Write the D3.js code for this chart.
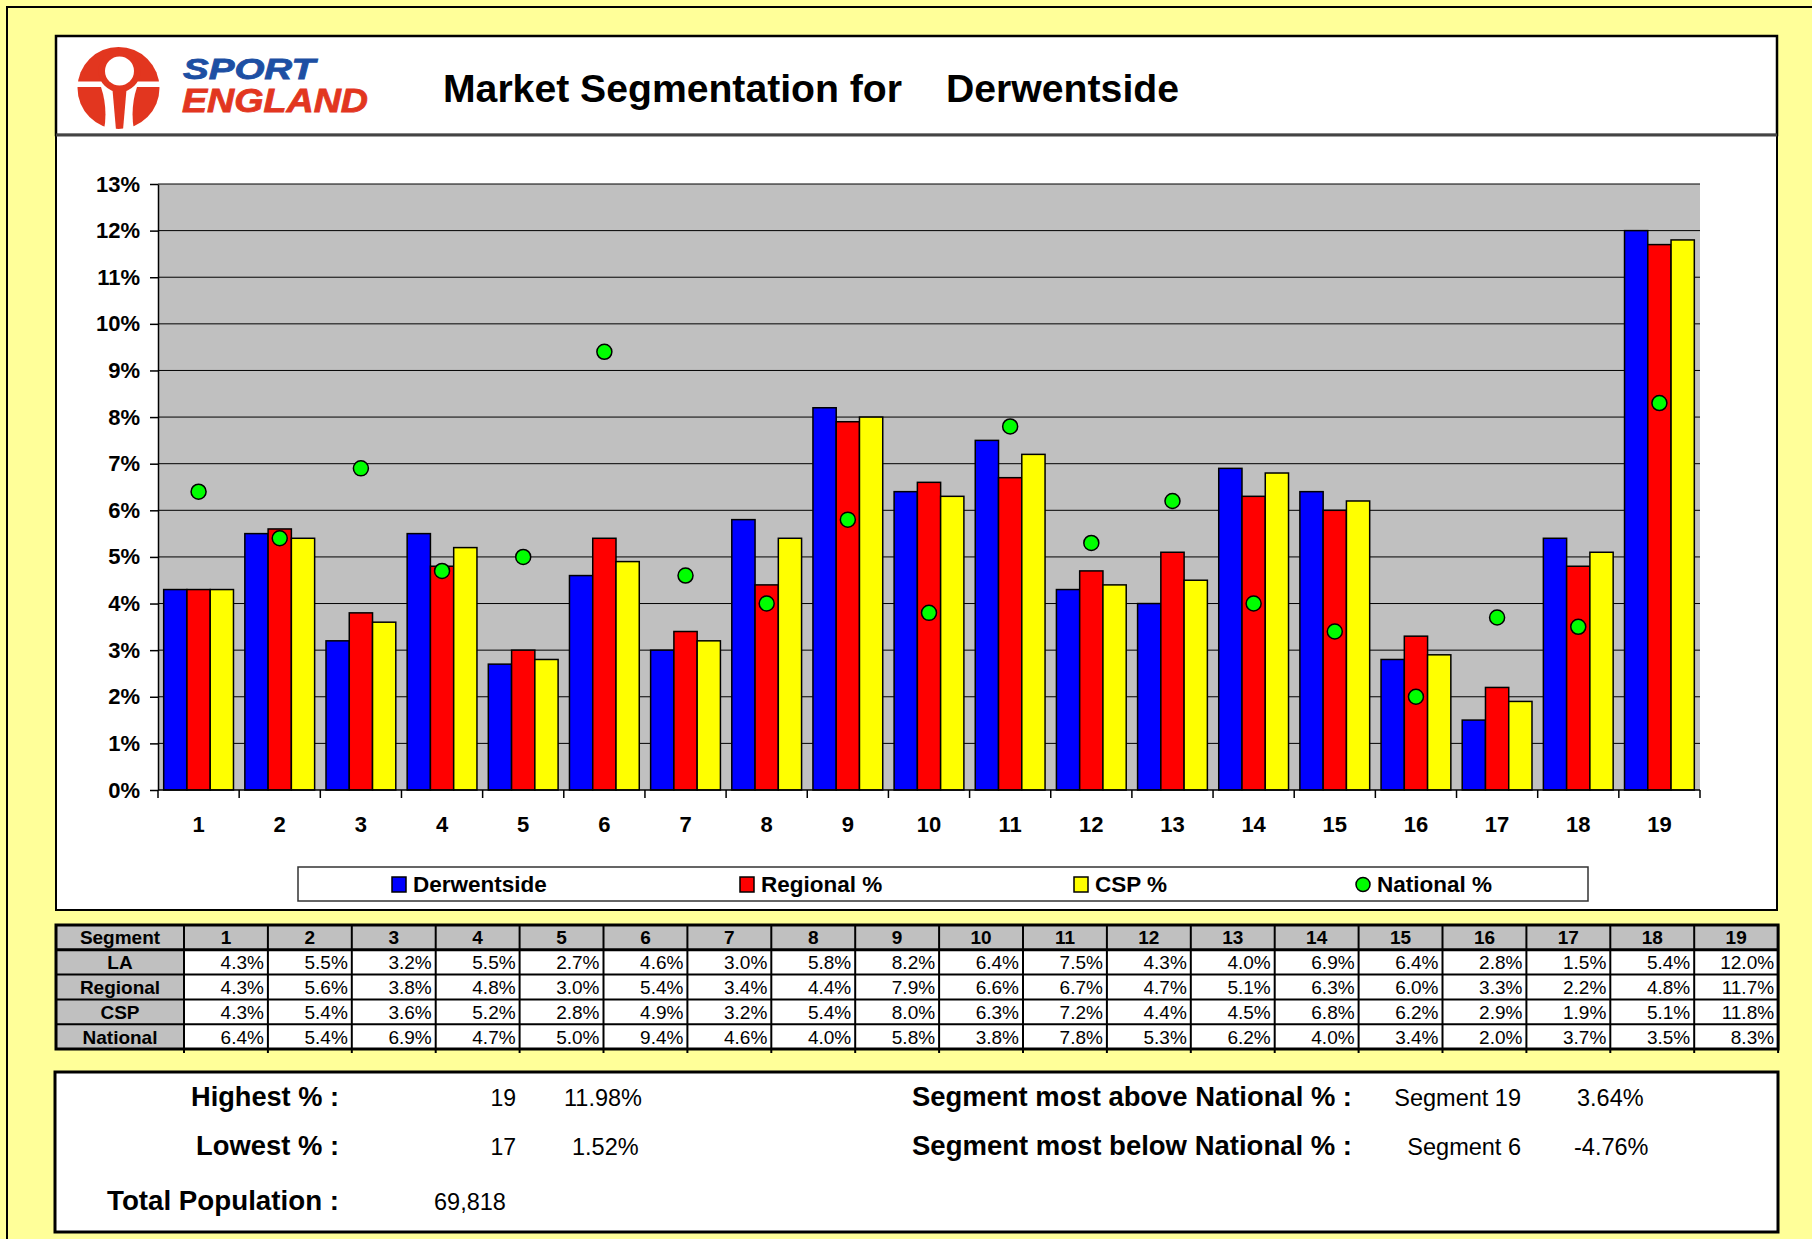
<!DOCTYPE html>
<html>
<head>
<meta charset="utf-8">
<script src="https://cdn.jsdelivr.net/npm/d3@7"></script>
<style>
  body { margin: 0; background: #FFFF99; }
  svg { display: block; font-family: Arial, "Liberation Sans", sans-serif; }
</style>
</head>
<body>
<div id="chart"></div>
<script>
const segments = d3.range(1, 20).map(String);
const laValues       = [4.3, 5.5, 3.2, 5.5, 2.7, 4.6, 3.0, 5.8, 8.2, 6.4, 7.5, 4.3, 4.0, 6.9, 6.4, 2.8, 1.5, 5.4, 12.0];
const regionalValues = [4.3, 5.6, 3.8, 4.8, 3.0, 5.4, 3.4, 4.4, 7.9, 6.6, 6.7, 4.7, 5.1, 6.3, 6.0, 3.3, 2.2, 4.8, 11.7];
const cspValues      = [4.3, 5.4, 3.6, 5.2, 2.8, 4.9, 3.2, 5.4, 8.0, 6.3, 7.2, 4.4, 4.5, 6.8, 6.2, 2.9, 1.9, 5.1, 11.8];
const nationalValues = [6.4, 5.4, 6.9, 4.7, 5.0, 9.4, 4.6, 4.0, 5.8, 3.8, 7.8, 5.3, 6.2, 4.0, 3.4, 2.0, 3.7, 3.5, 8.3];
const barSeries = ['Derwentside', 'Regional %', 'CSP %'];
const tableRows = ['LA', 'Regional', 'CSP', 'National'];
const yTicks = d3.range(0, 14);
const areaName = 'Derwentside';
const summaryLeft = [
  ['Highest % :', '19', '11.98%'],
  ['Lowest % :', '17', '1.52%'],
  ['Total Population :', '', '69,818']
];
const summaryRight = [
  ['Segment most above National % :', 'Segment 19', '3.64%'],
  ['Segment most below National % :', 'Segment 6', '-4.76%']
];

const W = 1812, H = 1239;
const BLUE = '#0000FF', RED = '#FF0000', YELLOW = '#FFFF00', GREEN = '#00FF00', GREY = '#C0C0C0';

const svg = d3.select('#chart').append('svg').attr('width', W).attr('height', H);

// ── Background & panels ────────────────────────────────────────────────────
svg.append('rect').attr('x', 7).attr('y', 7).attr('width', W + 10).attr('height', H + 10)
  .attr('fill', '#FFFF99').attr('stroke', '#000').attr('stroke-width', 2);

svg.append('rect').attr('x', 56).attr('y', 36).attr('width', 1721).attr('height', 99)
  .attr('fill', '#fff').attr('stroke', '#000').attr('stroke-width', 2.5);
svg.append('rect').attr('x', 56).attr('y', 135).attr('width', 1721).attr('height', 775)
  .attr('fill', '#fff').attr('stroke', '#000').attr('stroke-width', 2);
svg.append('line').attr('x1', 56).attr('x2', 1777).attr('y1', 135).attr('y2', 135)
  .attr('stroke', '#444').attr('stroke-width', 3);

// ── Logo ───────────────────────────────────────────────────────────────────
const logo = svg.append('g');
const LRED = '#E2361F';
logo.append('clipPath').attr('id', 'logo-clip')
  .append('circle').attr('cx', 118.5).attr('cy', 88).attr('r', 41);
const lg = logo.append('g').attr('clip-path', 'url(#logo-clip)');
lg.append('rect').attr('x', 70).attr('y', 40).attr('width', 100).attr('height', 41.5).attr('fill', LRED);
lg.append('circle').attr('cx', 119.5).attr('cy', 71).attr('r', 21).attr('fill', LRED);
lg.append('path').attr('d', 'M112,84 L127,84 L123,130 L116,130 Z').attr('fill', LRED);
lg.append('path').attr('d', 'M70,87 L101,87 Q108,108 104,130 L70,130 Z').attr('fill', LRED);
lg.append('path').attr('d', 'M167,87 L137,87 Q130,108 134,130 L167,130 Z').attr('fill', LRED);
lg.append('circle').attr('cx', 119.5).attr('cy', 71).attr('r', 14.5).attr('fill', '#fff');
logo.append('text').attr('x', 183).attr('y', 79).attr('font-size', 29).attr('font-weight', 900)
  .attr('font-style', 'italic').attr('fill', '#1D4FA3').attr('stroke', '#1D4FA3').attr('stroke-width', 0.8)
  .attr('textLength', 132).attr('lengthAdjust', 'spacingAndGlyphs').text('SPORT');
logo.append('text').attr('x', 182).attr('y', 112).attr('font-size', 33).attr('font-weight', 900)
  .attr('font-style', 'italic').attr('fill', LRED).attr('stroke', LRED).attr('stroke-width', 0.8)
  .attr('textLength', 186).attr('lengthAdjust', 'spacingAndGlyphs').text('ENGLAND');

// Title
svg.append('text').attr('x', 443).attr('y', 102).attr('font-size', 38).attr('font-weight', 'bold')
  .attr('textLength', 459).attr('lengthAdjust', 'spacingAndGlyphs').text('Market Segmentation for');
svg.append('text').attr('x', 946).attr('y', 102).attr('font-size', 38).attr('font-weight', 'bold')
  .attr('textLength', 233).attr('lengthAdjust', 'spacingAndGlyphs').text(areaName);

// ── Chart ──────────────────────────────────────────────────────────────────
const plot = { left: 158, right: 1700, top: 184, bottom: 790 };

const x = d3.scaleBand().domain(segments).range([plot.left, plot.right])
  .paddingInner(0.14).paddingOuter(0.07);
const xSub = d3.scaleBand().domain(barSeries).range([0, x.bandwidth()]);
const y = d3.scaleLinear().domain([0, 13]).range([plot.bottom, plot.top]);

const g = svg.append('g');

g.append('rect').attr('x', plot.left).attr('y', plot.top)
  .attr('width', plot.right - plot.left).attr('height', plot.bottom - plot.top)
  .attr('fill', GREY);

// Gridlines
g.selectAll('line.grid').data(yTicks.slice(1)).join('line')
  .attr('class', 'grid')
  .attr('x1', plot.left).attr('x2', plot.right)
  .attr('y1', d => y(d)).attr('y2', d => y(d))
  .attr('stroke', '#000').attr('stroke-width', 1);

// Bars
const barData = segments.map((s, i) => ({
  seg: s,
  values: [
    { key: 'Derwentside', v: laValues[i], c: BLUE },
    { key: 'Regional %', v: regionalValues[i], c: RED },
    { key: 'CSP %', v: cspValues[i], c: YELLOW }
  ]
}));

g.selectAll('g.seg').data(barData).join('g')
  .attr('class', 'seg')
  .attr('transform', d => `translate(${x(d.seg)},0)`)
  .selectAll('rect').data(d => d.values).join('rect')
  .attr('x', d => xSub(d.key))
  .attr('y', d => y(d.v))
  .attr('width', xSub.bandwidth())
  .attr('height', d => y(0) - y(d.v))
  .attr('fill', d => d.c)
  .attr('stroke', '#000').attr('stroke-width', 1.5);

// National dots
g.selectAll('circle.nat').data(segments).join('circle')
  .attr('class', 'nat')
  .attr('cx', d => x(d) + x.bandwidth() / 2)
  .attr('cy', (d, i) => y(nationalValues[i]))
  .attr('r', 7.5)
  .attr('fill', GREEN).attr('stroke', '#000').attr('stroke-width', 1.5);

// Y axis
const yAxis = g.append('g').attr('transform', `translate(${plot.left},0)`)
  .call(d3.axisLeft(y).tickValues(yTicks).tickFormat(d => d + '%').tickSize(8).tickSizeOuter(0));
yAxis.select('.domain').attr('stroke', '#000').attr('stroke-width', 1.5);
yAxis.selectAll('.tick line').attr('stroke', '#000').attr('stroke-width', 1.5);
yAxis.selectAll('.tick text').attr('x', -18).attr('font-size', 22).attr('font-weight', 'bold')
  .attr('fill', '#000').attr('font-family', 'Arial, "Liberation Sans", sans-serif');

// X axis line and boundary ticks
g.append('line').attr('x1', plot.left).attr('x2', plot.right)
  .attr('y1', plot.bottom).attr('y2', plot.bottom)
  .attr('stroke', '#000').attr('stroke-width', 1.5);
const boundaries = d3.range(0, segments.length + 1);
g.selectAll('line.xtick').data(boundaries).join('line')
  .attr('class', 'xtick')
  .attr('x1', d => plot.left + d * x.step()).attr('x2', d => plot.left + d * x.step())
  .attr('y1', plot.bottom).attr('y2', plot.bottom + 8)
  .attr('stroke', '#000').attr('stroke-width', 1.5);
g.selectAll('text.xlab').data(segments).join('text')
  .attr('class', 'xlab')
  .attr('x', d => x(d) + x.bandwidth() / 2)
  .attr('y', 832)
  .attr('text-anchor', 'middle')
  .attr('font-size', 22).attr('font-weight', 'bold')
  .text(d => d);

// Legend
const legend = svg.append('g');
legend.append('rect').attr('x', 298).attr('y', 867).attr('width', 1290).attr('height', 34)
  .attr('fill', '#fff').attr('stroke', '#333').attr('stroke-width', 1.5);
const legendItems = [
  { label: 'Derwentside', c: BLUE, x: 392, shape: 'rect' },
  { label: 'Regional %', c: RED, x: 740, shape: 'rect' },
  { label: 'CSP %', c: YELLOW, x: 1074, shape: 'rect' },
  { label: 'National %', c: GREEN, x: 1356, shape: 'circle' }
];
legendItems.forEach(it => {
  if (it.shape === 'rect') {
    legend.append('rect').attr('x', it.x).attr('y', 877).attr('width', 14).attr('height', 15)
      .attr('fill', it.c).attr('stroke', '#000').attr('stroke-width', 1.5);
  } else {
    legend.append('circle').attr('cx', it.x + 7).attr('cy', 884.5).attr('r', 7)
      .attr('fill', it.c).attr('stroke', '#000').attr('stroke-width', 1.5);
  }
  legend.append('text').attr('x', it.x + 21).attr('y', 892)
    .attr('font-size', 22.5).attr('font-weight', 'bold').text(it.label);
});

// ── Data table ─────────────────────────────────────────────────────────────
const tbl = { left: 56, firstW: 128, colW: 83.9, top: 925, rowH: 24.8 };
const colX = d3.scaleBand().domain(segments)
  .range([tbl.left + tbl.firstW, tbl.left + tbl.firstW + tbl.colW * segments.length]);
const rowY = d3.scaleBand().domain(['Segment', ...tableRows])
  .range([tbl.top, tbl.top + tbl.rowH * 5]);
const tableValues = [laValues, regionalValues, cspValues, nationalValues];
const tg = svg.append('g');
const tRight = tbl.left + tbl.firstW + tbl.colW * segments.length;

// Header row and first column
tg.append('rect').attr('x', tbl.left).attr('y', tbl.top).attr('width', tRight - tbl.left).attr('height', tbl.rowH)
  .attr('fill', GREY);
tg.append('rect').attr('x', tbl.left).attr('y', tbl.top).attr('width', tbl.firstW).attr('height', tbl.rowH * 5)
  .attr('fill', GREY);
tg.append('rect').attr('x', tbl.left + tbl.firstW).attr('y', tbl.top + tbl.rowH)
  .attr('width', tRight - tbl.left - tbl.firstW).attr('height', tbl.rowH * 4).attr('fill', '#fff');

['Segment', ...tableRows].forEach(r => {
  tg.append('text').attr('x', tbl.left + tbl.firstW / 2).attr('y', rowY(r) + tbl.rowH / 2 + 7)
    .attr('text-anchor', 'middle').attr('font-size', 19).attr('font-weight', 'bold').text(r);
});
segments.forEach(s => {
  tg.append('text').attr('x', colX(s) + tbl.colW / 2).attr('y', tbl.top + tbl.rowH / 2 + 7)
    .attr('text-anchor', 'middle').attr('font-size', 19).attr('font-weight', 'bold').text(s);
});
tableRows.forEach((r, ri) => {
  tg.selectAll(null).data(segments).join('text')
    .attr('x', d => colX(d) + tbl.colW - 4)
    .attr('y', rowY(r) + tbl.rowH / 2 + 7)
    .attr('text-anchor', 'end').attr('font-size', 19)
    .text((d, i) => d3.format('.1f')(tableValues[ri][i]) + '%');
});

// Grid lines of table
d3.range(1, 5).forEach(k => {
  tg.append('line').attr('x1', tbl.left).attr('x2', tRight)
    .attr('y1', tbl.top + k * tbl.rowH).attr('y2', tbl.top + k * tbl.rowH)
    .attr('stroke', '#000').attr('stroke-width', k === 1 ? 3 : 2);
});
[tbl.left + tbl.firstW, ...segments.map(s => colX(s) + tbl.colW)].forEach(xx => {
  tg.append('line').attr('x1', xx).attr('x2', xx)
    .attr('y1', tbl.top).attr('y2', tbl.top + tbl.rowH * 5 + 4)
    .attr('stroke', '#000').attr('stroke-width', 2);
});
tg.append('rect').attr('x', tbl.left).attr('y', tbl.top).attr('width', tRight - tbl.left).attr('height', tbl.rowH * 5)
  .attr('fill', 'none').attr('stroke', '#000').attr('stroke-width', 3);

// ── Summary panel ──────────────────────────────────────────────────────────
const sp = svg.append('g');
sp.append('rect').attr('x', 55).attr('y', 1072).attr('width', 1723).attr('height', 160)
  .attr('fill', '#fff').attr('stroke', '#000').attr('stroke-width', 3);

const leftRowsY = [1106, 1155, 1210];
const leftLabelW = [148, 143, 232];
summaryLeft.forEach((r, i) => {
  sp.append('text').attr('x', 339).attr('y', leftRowsY[i]).attr('text-anchor', 'end')
    .attr('font-size', 27).attr('font-weight', 'bold')
    .attr('textLength', leftLabelW[i]).attr('lengthAdjust', 'spacingAndGlyphs').text(r[0]);
  if (r[1]) {
    sp.append('text').attr('x', 516).attr('y', leftRowsY[i]).attr('text-anchor', 'end')
      .attr('font-size', 23).text(r[1]);
    sp.append('text').attr('x', i === 0 ? 564 : 572).attr('y', leftRowsY[i])
      .attr('font-size', 23.5).text(r[2]);
  } else {
    sp.append('text').attr('x', 434).attr('y', leftRowsY[i]).attr('font-size', 23.5).text(r[2]);
  }
});
summaryRight.forEach((r, i) => {
  sp.append('text').attr('x', 912).attr('y', leftRowsY[i])
    .attr('font-size', 27).attr('font-weight', 'bold')
    .attr('textLength', 440).attr('lengthAdjust', 'spacingAndGlyphs').text(r[0]);
  sp.append('text').attr('x', 1521).attr('y', leftRowsY[i]).attr('text-anchor', 'end')
    .attr('font-size', 23.5).text(r[1]);
  sp.append('text').attr('x', i === 0 ? 1577 : 1574).attr('y', leftRowsY[i])
    .attr('font-size', 23.5).text(r[2]);
});
</script>
</body>
</html>
